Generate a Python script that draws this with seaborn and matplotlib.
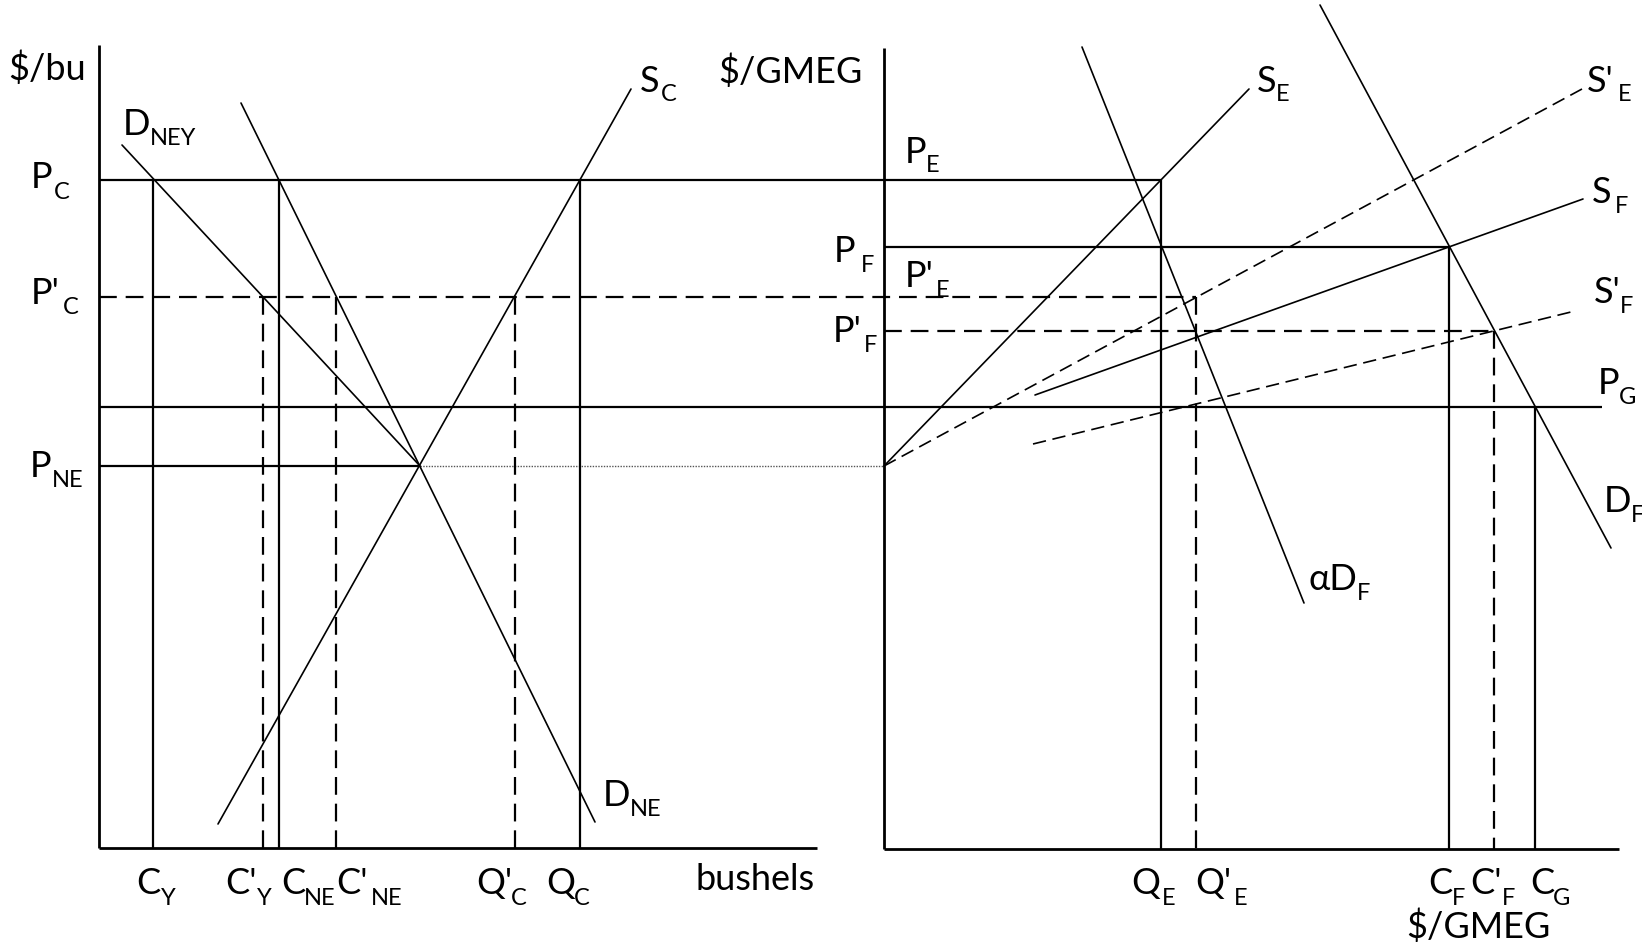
import numpy as np
import pandas as pd
import matplotlib
matplotlib.use("Agg")
import matplotlib.pyplot as plt
import seaborn as sns

# diagram units: 1 unit = 1 px of the 1642x947 canvas, y measured downwards
W, H = 1642, 947

# axes of the two panels: (x0, y_top, y_bottom, x_end)
left_axes = (99, 45, 848, 817)
right_axes = (884, 48, 849, 1619)

# horizontal price lines: level, x from, x to, style
h_levels = [180, 297, 406.5, 466, 247, 331]
h_start = [99, 99, 99, 99, 884, 884]
h_end = [1161, 1196, 1602, 420, 1448.5, 1494]
h_dashed = [False, True, False, False, False, True]

# dotted continuation of P_NE to the right axis
pne_dotted = (420, 884, 466)

# vertical quantity lines: x, top (price), dashed
v_x = [153, 279, 580, 263, 336, 515, 1160.6, 1196, 1448.5, 1494, 1535]
v_top = [180, 180, 180, 297, 297, 297, 180, 297, 247, 331, 406.5]
v_dashed = [False, False, False, True, True, True, False, True, False, True, False]
v_bottom = [848] * 6 + [849] * 5

# supply / demand curves, two end points each
curve_names = ["D_NEY", "D_NE", "S_C", "S_E", "S'_E", "S_F", "S'_F", "aD_F", "D_F"]
curve_x = [(122, 420), (241, 595), (218, 631), (884, 1249), (884, 1582),
           (1035, 1583), (1033, 1575), (1082, 1304), (1320, 1611)]
curve_y = [(145, 466), (103, 822), (824, 89), (466, 89), (466, 89),
           (395, 199), (444, 311), (47, 603), (5, 548)]
curve_dashed = [False, False, False, False, True, False, True, False, False]

# labels: main text, x, baseline, subscript, sub x, sub baseline
labels = [
    ("$/bu", 8, 80, "", 0, 0),
    ("D", 123, 135, "NEY", 150, 145),
    ("P", 31, 188, "C", 54, 199),
    ("P'", 31, 304, "C", 63, 314),
    ("P", 30, 477, "NE", 52, 487),
    ("S", 640, 92, "C", 661, 101),
    ("D", 603, 806, "NE", 620, 816),
    ("C", 136, 894, "Y", 161, 905),
    ("C'", 225, 894, "Y", 257, 905),
    ("C", 281, 894, "NE", 304, 905),
    ("C'", 336, 894, "NE", 371, 905),
    ("Q'", 476, 894, "C", 511, 905),
    ("Q", 546, 894, "C", 568, 905),
    ("bushels", 695, 890, "", 0, 0),
    ("$/GMEG", 718, 83, "", 0, 0),
    ("S", 1257, 92, "E", 1276, 101),
    ("S'", 1587, 92, "E", 1618, 101),
    ("P", 905, 163, "E", 926, 172),
    ("P", 834, 262, "F", 861, 272),
    ("P'", 905, 287, "E", 936, 297),
    ("P'", 833, 342, "F", 864, 352),
    ("S", 1592, 203, "F", 1615, 213),
    ("S'", 1594, 303, "F", 1620, 313),
    ("P", 1598, 394, "G", 1615, 404),
    ("D", 1604, 512, "F", 1630, 522),
    ("\u03b1D", 1308, 590, "F", 1357, 600),
    ("Q", 1131, 894, "E", 1162, 905),
    ("Q'", 1195, 894, "E", 1234, 905),
    ("C", 1428, 894, "F", 1452, 905),
    ("C'", 1470, 894, "F", 1502, 905),
    ("C", 1530, 894, "G", 1550, 905),
    ("$/GMEG", 1406, 938, "", 0, 0),
]

sns.set_theme(style="white")
plt.rcParams["font.family"] = ["Lato", "DejaVu Sans"]

fig = plt.figure(figsize=(W / 100, H / 100), dpi=100)
ax = fig.add_axes([0, 0, 1, 1])
ax.set_xlim(0, W)
ax.set_ylim(H, 0)
ax.axis("off")

DASH = (0, (8, 4))

# axes of both panels
for x0, ytop, ybot, xend in (left_axes, right_axes):
    ax.plot([x0, x0], [ytop, ybot], color="black", lw=2.0, solid_capstyle="butt")
    ax.plot([x0, xend], [ybot, ybot], color="black", lw=2.0, solid_capstyle="butt")

ax.hlines(h_levels, h_start, h_end, colors="black", lw=1.6,
          linestyles=[DASH if d else "solid" for d in h_dashed])
ax.plot(pne_dotted[:2], [pne_dotted[2]] * 2, color="#555555", lw=1.0, ls=(0, (1, 1)))

ax.vlines(v_x, v_top, v_bottom, colors="black", lw=1.6,
          linestyles=[DASH if d else "solid" for d in v_dashed])

for name, xs, ys, dashed in zip(curve_names, curve_x, curve_y, curve_dashed):
    seg = pd.DataFrame({"x": xs, "y": ys})
    sns.lineplot(data=seg, x="x", y="y", ax=ax, color="black", lw=1.2,
                 estimator=None, sort=False, linestyle=DASH if dashed else "-")

ax.set_xlim(0, W)
ax.set_ylim(H, 0)
ax.axis("off")

renderer = fig.canvas.get_renderer()
inv = ax.transData.inverted()
for main, x, y, sub, sx, sy in labels:
    t = ax.text(x, y, main, fontsize=26, ha="left", va="baseline", color="black")
    if sub:
        # keep the subscript clear of the (slightly wider) main glyphs
        right = inv.transform(t.get_window_extent(renderer))[1][0]
        ax.text(max(sx, right - 1), sy, sub, fontsize=17, ha="left", va="baseline",
                color="black")

fig.savefig("out.png", dpi=100, facecolor="white")
